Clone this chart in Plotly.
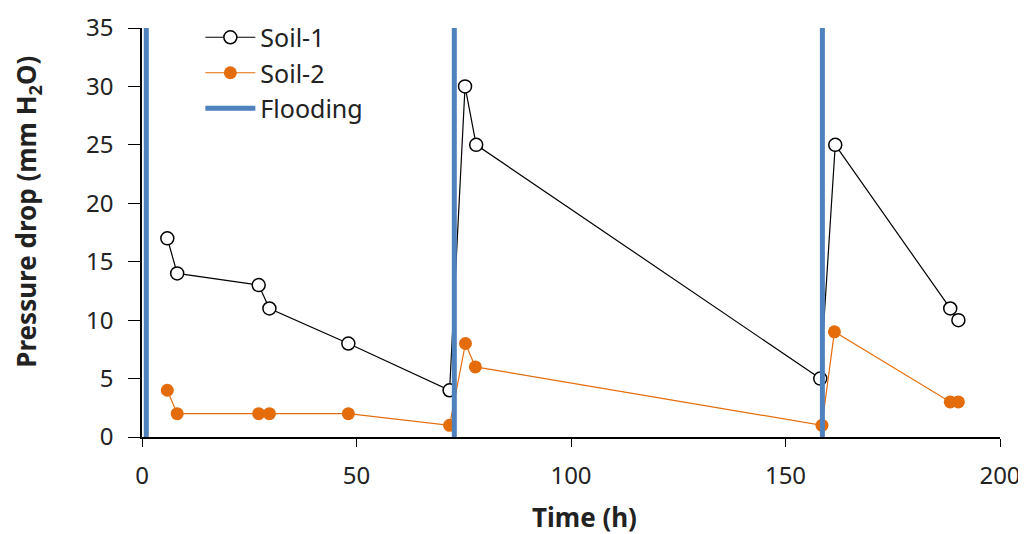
import plotly.graph_objects as go

time_soil1 = [5.9, 8.2, 27.2, 29.7, 48.1, 71.7, 75.3, 77.9, 158.1, 161.6, 188.4, 190.3]
soil1 = [17, 14, 13, 11, 8, 4, 30, 25, 5, 25, 11, 10]
time_soil2 = [5.9, 8.2, 27.2, 29.7, 48.1, 71.7, 75.4, 77.7, 158.5, 161.4, 188.4, 190.3]
soil2 = [4, 2, 2, 2, 2, 1, 8, 6, 1, 9, 3, 3]
flood_times = [1.0, 72.8, 158.6]
flood_range = [0, 35]

fx, fy = [], []
for t in flood_times:
    fx += [t, t, None]
    fy += [flood_range[0], flood_range[1], None]

fig = go.Figure()
fig.add_trace(go.Scatter(x=time_soil1, y=soil1, name="Soil-1", mode="lines+markers",
                         line=dict(color="black", width=1.2),
                         marker=dict(symbol="circle", size=13, color="white",
                                     line=dict(color="black", width=1.5))))
fig.add_trace(go.Scatter(x=time_soil2, y=soil2, name="Soil-2", mode="lines+markers",
                         line=dict(color="#E46C0A", width=1.2),
                         marker=dict(symbol="circle", size=13, color="#E46C0A")))
fig.add_trace(go.Scatter(x=fx, y=fy, name="Flooding", mode="lines",
                         line=dict(color="#4F81BD", width=5)))

font = dict(family="Noto Sans, Liberation Sans, sans-serif", size=24, color="#222")
fig.update_layout(
    width=1018, height=526,
    margin=dict(l=134, r=26, t=20, b=97, autoexpand=False),
    plot_bgcolor="white", paper_bgcolor="white",
    font=font,
    showlegend=True,
    legend=dict(x=0.068, y=1.033, xanchor="left", yanchor="top",
                bgcolor="rgba(0,0,0,0)", font=dict(size=25), tracegroupgap=0,
                itemwidth=50),
    xaxis=dict(range=[0, 200], tickvals=[0, 50, 100, 150, 200], showgrid=False,
               zeroline=False, showline=True, linecolor="black", linewidth=1.5,
               ticks="outside", ticklen=8, tickcolor="black",
               ticklabelstandoff=8, ticklabeloverflow="allow"),
    yaxis=dict(range=[0, 35], tickvals=[0, 5, 10, 15, 20, 25, 30, 35], showgrid=False,
               zeroline=False, showline=True, linecolor="black", linewidth=1.5,
               ticks="outside", ticklen=12, tickcolor="black",
               ticklabelstandoff=10),
    annotations=[
        dict(text="<b>Time (h)</b>", xref="paper", yref="paper", x=0.516, y=-0.196,
             xanchor="center", yanchor="middle", showarrow=False, font=dict(size=26)),
        dict(text="<b>Pressure drop (mm H<sub>2</sub>O)</b>", xref="paper", yref="paper",
             x=-0.1335, y=0.552, xanchor="center", yanchor="middle", textangle=-90,
             showarrow=False, font=dict(size=26)),
    ],
)

fig.write_html("out.html")
